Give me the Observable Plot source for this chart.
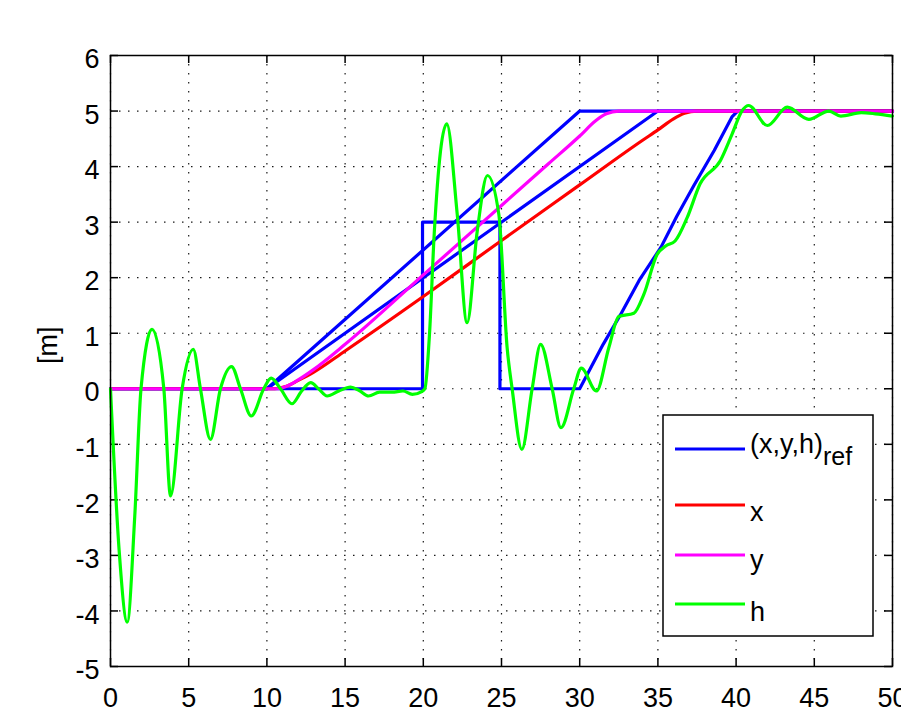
<!DOCTYPE html>
<html><head><meta charset="utf-8">
<script src="https://cdn.jsdelivr.net/npm/d3@7"></script>
<script src="https://cdn.jsdelivr.net/npm/@observablehq/plot@0.6"></script>
<style>
body{margin:0;background:#fff;}
#chart{position:relative;width:901px;height:713px;overflow:hidden;}
</style></head><body><div id="chart"></div>
<script>
// ---- data ----
const xTicks = [0, 5, 10, 15, 20, 25, 30, 35, 40, 45, 50];
const yTicks = [-5, -4, -3, -2, -1, 0, 1, 2, 3, 4, 5, 6];

// reference trajectories (blue)
const xRefT = [0, 10, 35, 50];
const xRefV = [0, 0, 5, 5];
const yRefT = [0, 10, 30, 50];
const yRefV = [0, 0, 5, 5];
const hRefT = [0, 19.95, 19.95, 24.9, 24.9, 30, 31.5, 32.6, 33.8, 35.2, 36.2, 37.3, 38.6, 39.75, 40.1, 50];
const hRefV = [0, 0, 3, 3, 0, 0, 0.8, 1.33, 1.95, 2.55, 3.1, 3.66, 4.29, 4.9, 5, 5];

// x (red)
const xT = [0, 10.5, 11.2, 12, 13, 15, 20, 25, 30, 34, 35, 36, 36.7, 37.5, 50];
const xV = [0, 0, 0.04, 0.15, 0.3, 0.68, 1.66, 2.67, 3.67, 4.47, 4.66, 4.86, 4.96, 5, 5];

// y (magenta)
const yT = [0, 10.6, 11.3, 12, 13, 15, 20, 25, 28, 30, 31, 31.7, 32.5, 50];
const yV = [0, 0, 0.05, 0.16, 0.35, 0.8, 2.05, 3.3, 4.05, 4.55, 4.82, 4.95, 5, 5];

// h (green)
const hT = [0, 0.55, 1.07, 1.55, 1.95, 2.66, 3.41, 3.84, 4.58, 5.29, 5.75, 6.39, 7.03, 7.74, 8.31, 9.0, 9.8, 10.27, 10.87, 11.6, 12.2, 12.8, 13.3, 13.85, 14.6, 15.35, 15.9, 16.5, 17.2, 18.0, 18.7, 19.3, 19.9, 20.1, 20.4, 20.7, 21.5, 22.17, 22.8, 23.45, 24.1, 24.83, 25.36, 25.68, 26.3, 26.96, 27.5, 28.24, 28.8, 29.62, 30.1, 31.07, 31.86, 32.5, 33.46, 34.1, 34.95, 35.5, 36.1, 36.87, 37.7, 39.0, 39.75, 40.39, 40.8, 42.0, 43.27, 44.65, 45.93, 46.7, 48.0, 48.9, 50];
const hV = [0, -2.9, -4.2, -2.3, 0, 1.07, 0, -1.93, 0, 0.71, 0, -0.91, 0, 0.40, 0, -0.49, 0, 0.19, 0, -0.27, -0.05, 0.11, 0, -0.13, -0.04, 0.03, -0.03, -0.13, -0.06, -0.06, -0.04, -0.1, -0.05, 0, 1.0, 2.8, 4.77, 3.14, 1.19, 2.84, 3.84, 3.14, 0.74, 0, -1.09, 0, 0.80, 0, -0.70, 0, 0.37, -0.04, 0.74, 1.3, 1.36, 1.70, 2.42, 2.57, 2.66, 3.08, 3.69, 4.11, 4.59, 5.01, 5.10, 4.74, 5.07, 4.85, 5.0, 4.91, 4.97, 4.95, 4.91];

const legendLabels = ["(x,y,h)", "x", "y", "h"];
const legendSub = ["ref", "", "", ""];
const legendColors = ["#0000ff", "#ff0000", "#ff00ff", "#00ff00"];
const yLabel = "[m]";

// ---- build ----
const pts = (ts, vs) => ts.map((t, i) => ({t, v: vs[i]}));
const W = 901, H = 713, mL = 110, mR = 9, mT = 55, mB = 47;
const fw = W - mL - mR, fh = H - mT - mB;
const font = "'Liberation Sans',Arial,sans-serif";
const lw = 3.2;

const plot = Plot.plot({
  width: W, height: H,
  marginLeft: mL, marginRight: mR, marginTop: mT, marginBottom: mB,
  x: {domain: [0, 50]},
  y: {domain: [-5, 6]},
  style: {fontFamily: font, fontSize: "27px", background: "#fff", color: "#000", overflow: "visible"},
  marks: [
    Plot.ruleX(xTicks, {x: d => d, stroke: "#000", strokeOpacity: 0.9, strokeDasharray: "1.5,7.5", strokeWidth: 1.2}),
    Plot.ruleY(yTicks, {y: d => d, stroke: "#000", strokeOpacity: 0.9, strokeDasharray: "1.5,7.5", strokeWidth: 1.2}),
    Plot.tickX(xTicks, {x: d => d, insetTop: fh - 8, stroke: "#000", strokeWidth: 1.5}),
    Plot.tickX(xTicks, {x: d => d, insetBottom: fh - 8, stroke: "#000", strokeWidth: 1.5}),
    Plot.tickY(yTicks, {y: d => d, insetRight: fw - 8, stroke: "#000", strokeWidth: 1.5}),
    Plot.tickY(yTicks, {y: d => d, insetLeft: fw - 8, stroke: "#000", strokeWidth: 1.5}),
    Plot.line(pts(xRefT, xRefV), {x: "t", y: "v", stroke: legendColors[0], strokeWidth: lw}),
    Plot.line(pts(yRefT, yRefV), {x: "t", y: "v", stroke: legendColors[0], strokeWidth: lw}),
    Plot.line(pts(hRefT, hRefV), {x: "t", y: "v", stroke: legendColors[0], strokeWidth: lw}),
    Plot.line(pts(xT, xV), {x: "t", y: "v", stroke: legendColors[1], strokeWidth: lw, curve: "monotone-x"}),
    Plot.line(pts(yT, yV), {x: "t", y: "v", stroke: legendColors[2], strokeWidth: lw, curve: "monotone-x"}),
    Plot.line(pts(hT, hV), {x: "t", y: "v", stroke: legendColors[3], strokeWidth: lw, curve: "monotone-x"}),
    Plot.axisX(xTicks, {tickSize: 0, tickPadding: 21, tickFormat: d => String(d), label: null}),
    Plot.axisY(yTicks, {tickSize: 0, tickPadding: 11, dy: 4, tickFormat: d => String(d), label: null}),
    Plot.text([yLabel], {text: d => d, frameAnchor: "left", dx: -62, dy: 3, rotate: -90}),
    Plot.frame({stroke: "#000", strokeWidth: 1.5})
  ]
});

// legend
const svg = d3.select(plot);
const lg = svg.append("g").attr("font-family", font).attr("font-size", 27).attr("text-anchor", "start");
lg.append("rect").attr("x", 663).attr("y", 415).attr("width", 210).attr("height", 221)
  .attr("fill", "#fff").attr("stroke", "#000").attr("stroke-width", 1.5);
const lineY = [449, 505, 555, 604];
const textY = [453, 521, 569, 621];
legendLabels.forEach((lab, i) => {
  lg.append("line").attr("x1", 675).attr("x2", 745).attr("y1", lineY[i]).attr("y2", lineY[i])
    .attr("stroke", legendColors[i]).attr("stroke-width", 3);
  const t = lg.append("text").attr("x", 750).attr("y", textY[i]).attr("fill", "#000")
    .attr("text-anchor", "start").text(lab);
  if (legendSub[i]) t.append("tspan").attr("dy", 12).attr("font-size", 25).text(legendSub[i]);
});

document.getElementById("chart").appendChild(plot);
</script>
</body></html>
